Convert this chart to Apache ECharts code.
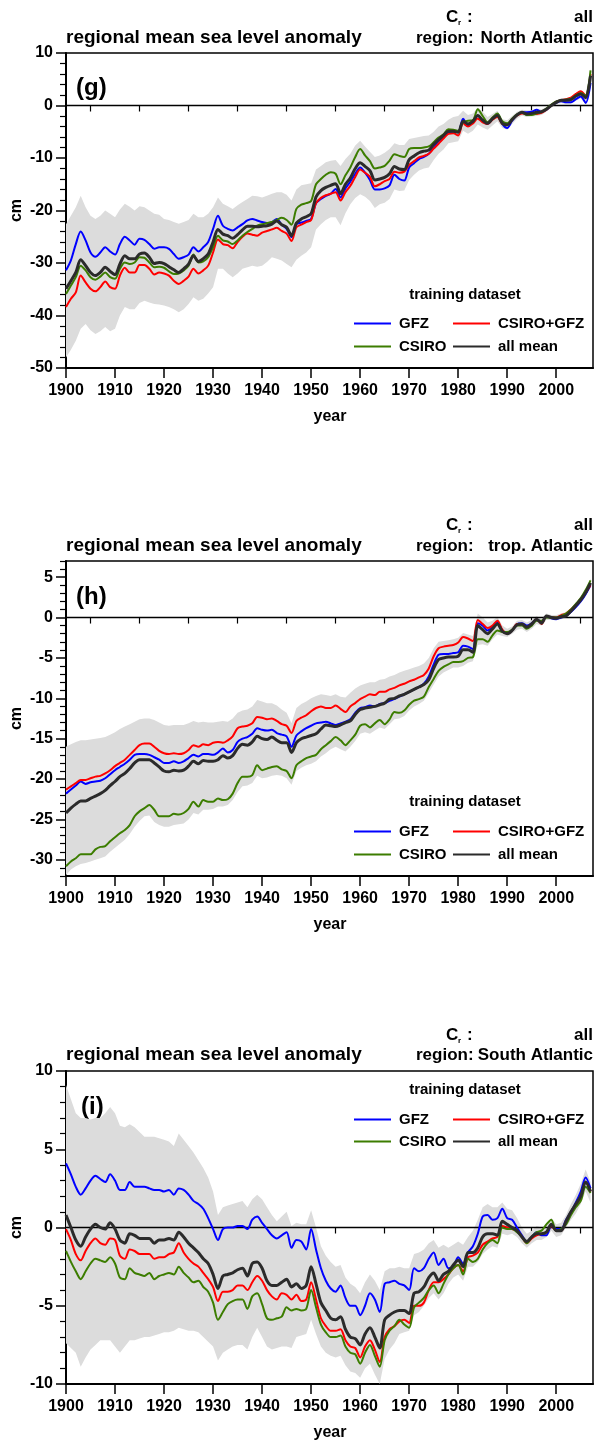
<!DOCTYPE html>
<html lang="en">
<head>
<meta charset="UTF-8">
<title>regional mean sea level anomaly</title>
<script src="https://cdn.jsdelivr.net/npm/echarts@6.0.0/dist/echarts.min.js"></script>
<style>
  html, body { margin: 0; padding: 0; background: #fff; }
  #main { width: 597px; height: 1447px; }
</style>
</head>
<body>
<div id="main"></div>
<script>
// one value per year, 1900 .. 2007
const years = [];
for (let y = 1900; y <= 2007; y++) years.push(y);

const xMajorTicks = [1900, 1910, 1920, 1930, 1940, 1950, 1960, 1970, 1980, 1990, 2000];
const xMinorTicks = [1905, 1915, 1925, 1935, 1945, 1955, 1965, 1975, 1985, 1995, 2005];
const yTicksG = [-50, -40, -30, -20, -10, 0, 10];
const yTicksH = [-30, -25, -20, -15, -10, -5, 0, 5];
const yTicksI = [-10, -5, 0, 5, 10];

// (g) North Atlantic
const gfzG = [-31.4,-29.5,-26.4,-24.0,-25.7,-28.0,-28.8,-28.0,-27.0,-27.8,
  -28.4,-26.4,-25.0,-25.7,-26.5,-25.4,-25.6,-26.4,-27.3,-27.0,
  -27.0,-27.3,-28.3,-29.2,-28.9,-28.4,-27.0,-27.8,-27.0,-26.0,
  -23.5,-21.0,-22.9,-23.5,-23.8,-23.2,-22.6,-21.9,-21.6,-21.9,
  -22.2,-22.4,-22.2,-21.6,-22.7,-23.5,-25.1,-22.6,-22.3,-22.0,
  -21.6,-18.6,-17.8,-17.2,-16.8,-15.9,-17.5,-15.8,-14.5,-13.0,
  -11.8,-12.8,-14.2,-16.0,-16.0,-15.8,-15.2,-13.2,-14.0,-14.3,
  -11.8,-11.0,-10.2,-9.8,-9.2,-8.0,-6.8,-6.0,-5.1,-5.0,
  -5.1,-2.5,-3.8,-3.2,-1.9,-3.0,-3.5,-2.5,-1.6,-3.5,
  -4.3,-2.9,-1.8,-1.3,-1.3,-1.2,-0.8,-1.2,-0.8,0.0,
  0.5,0.8,0.6,0.6,1.2,1.7,0.5,4.3];
const csiroGfzG = [-38.4,-36.8,-35.6,-32.4,-33.7,-34.9,-35.4,-34.6,-33.5,-34.6,
  -34.9,-32.4,-30.9,-31.8,-31.8,-30.4,-30.4,-31.1,-32.2,-31.8,
  -32.0,-32.4,-33.4,-34.0,-33.4,-32.6,-31.1,-32.0,-31.4,-30.5,
  -28.0,-25.5,-26.4,-26.6,-27.2,-26.0,-25.0,-24.4,-24.6,-24.8,
  -24.2,-23.9,-23.6,-23.3,-23.9,-24.4,-25.8,-23.2,-22.7,-22.2,
  -21.8,-18.6,-17.6,-17.1,-16.8,-16.5,-18.1,-16.5,-15.3,-13.6,
  -12.2,-12.8,-13.6,-15.4,-15.0,-14.4,-14.0,-12.6,-12.8,-12.6,
  -11.3,-10.6,-9.9,-9.6,-9.2,-8.2,-7.3,-6.3,-5.4,-5.3,
  -5.7,-3.4,-4.0,-3.4,-2.5,-3.2,-3.5,-2.7,-2.2,-3.5,
  -3.6,-2.7,-1.9,-1.5,-1.6,-1.6,-1.6,-1.4,-0.8,0.0,
  0.7,1.0,1.2,1.5,2.2,2.7,1.9,6.0];
const csiroG = [-35.9,-34.3,-32.7,-30.5,-31.4,-32.7,-33.2,-32.6,-31.8,-32.7,
  -33.0,-31.1,-29.9,-30.2,-29.9,-28.9,-29.0,-29.9,-30.8,-30.7,
  -30.9,-31.6,-32.1,-32.0,-31.4,-30.5,-28.4,-29.9,-29.7,-28.9,
  -27.0,-24.8,-25.7,-25.9,-26.4,-25.7,-24.8,-24.1,-23.5,-22.9,
  -22.6,-22.4,-22.2,-21.8,-21.4,-21.8,-22.7,-19.7,-18.9,-18.6,
  -18.2,-15.0,-14.0,-13.2,-12.7,-13.0,-15.0,-13.3,-11.8,-9.8,
  -8.3,-9.5,-10.6,-12.0,-11.8,-11.5,-10.5,-9.3,-9.6,-9.8,
  -8.3,-8.1,-8.1,-8.0,-7.8,-7.0,-6.1,-5.5,-4.5,-4.6,
  -4.8,-3.2,-2.9,-2.8,-0.7,-2.0,-3.2,-2.3,-1.5,-3.0,
  -3.4,-2.5,-1.7,-1.3,-1.8,-1.8,-1.5,-1.2,-0.6,0.2,
  0.8,1.0,1.1,1.3,1.9,2.4,1.9,6.7];
const meanG = [-34.9,-33.4,-31.8,-29.4,-30.5,-31.8,-32.4,-31.8,-30.8,-31.6,
  -32.2,-30.2,-28.6,-29.2,-29.2,-28.3,-28.1,-28.9,-30.1,-29.9,
  -30.1,-30.7,-31.3,-31.8,-31.1,-30.2,-28.6,-29.7,-29.2,-28.3,
  -26.0,-23.6,-24.5,-24.8,-25.3,-24.6,-23.7,-23.0,-23.0,-23.1,
  -23.0,-22.9,-22.6,-22.0,-22.7,-23.2,-24.8,-22.4,-21.6,-21.2,
  -20.6,-17.4,-16.2,-15.6,-15.2,-14.9,-16.8,-15.0,-13.8,-12.0,
  -10.9,-11.6,-12.4,-14.2,-14.0,-13.7,-13.0,-11.6,-12.1,-12.2,
  -10.3,-9.6,-9.0,-8.7,-8.5,-7.4,-6.5,-5.7,-4.9,-4.9,
  -5.1,-3.0,-3.5,-3.0,-1.9,-2.8,-3.4,-2.5,-1.9,-3.4,
  -3.7,-2.7,-1.8,-1.3,-1.6,-1.5,-1.3,-1.2,-0.7,0.0,
  0.6,1.0,1.0,1.1,1.8,2.2,1.5,5.7];
const upperG = [-22.6,-21.0,-19.4,-17.2,-19.4,-21.0,-21.6,-21.0,-20.0,-20.6,
  -21.3,-19.8,-18.7,-19.3,-20.0,-19.2,-19.4,-20.0,-20.6,-20.8,
  -21.6,-21.8,-22.2,-22.5,-22.2,-21.8,-20.6,-21.3,-21.3,-20.6,
  -19.4,-17.5,-18.7,-19.2,-19.7,-19.0,-18.4,-17.8,-17.2,-17.3,
  -17.5,-17.2,-16.8,-16.5,-16.5,-17.0,-18.1,-16.0,-15.2,-15.0,
  -14.8,-12.2,-11.5,-10.8,-10.5,-10.4,-11.5,-10.2,-9.2,-7.6,
  -6.7,-7.8,-8.8,-9.8,-9.5,-9.0,-8.3,-7.2,-7.5,-7.5,
  -6.4,-6.2,-6.0,-5.8,-5.7,-5.0,-4.0,-3.5,-2.7,-2.2,
  -2.0,-1.0,-1.8,-1.5,-0.4,-1.2,-2.2,-1.6,-1.0,-2.6,
  -2.8,-2.0,-1.2,-0.8,-0.9,-0.9,-0.6,-0.7,-0.3,0.4,
  1.0,1.3,1.4,1.6,2.4,2.9,2.2,7.0];
const lowerG = [-48.0,-46.5,-44.8,-42.5,-41.6,-42.8,-43.5,-43.0,-42.2,-43.0,
  -42.5,-40.0,-38.4,-38.8,-38.8,-37.6,-37.2,-37.5,-37.8,-37.9,
  -38.1,-38.4,-38.8,-39.4,-38.8,-37.8,-36.5,-37.2,-36.8,-35.8,
  -34.6,-31.1,-31.1,-32.0,-32.7,-32.0,-31.1,-30.8,-30.5,-30.7,
  -30.5,-29.8,-28.9,-29.2,-29.5,-30.2,-30.8,-29.4,-28.6,-28.0,
  -27.0,-23.6,-22.6,-21.8,-21.3,-21.3,-22.8,-20.5,-18.8,-17.6,
  -16.9,-17.4,-18.2,-19.5,-18.8,-18.5,-17.8,-16.0,-16.3,-16.2,
  -14.2,-13.2,-12.4,-12.0,-11.8,-10.4,-9.2,-8.4,-7.2,-7.0,
  -6.8,-4.8,-5.4,-4.8,-3.6,-4.2,-4.6,-3.8,-3.0,-4.3,
  -4.6,-3.5,-2.5,-1.9,-2.2,-2.1,-2.0,-1.8,-1.2,-0.4,
  0.2,0.5,0.3,0.3,0.9,1.4,0.2,3.9];

// (h) tropical Atlantic
const gfzH = [-21.8,-21.3,-20.8,-20.3,-20.6,-20.4,-20.3,-20.2,-19.9,-19.4,
  -18.9,-18.5,-18.1,-17.6,-17.0,-16.9,-16.9,-17.0,-17.3,-17.6,
  -18.0,-18.0,-17.8,-18.0,-17.8,-17.4,-17.0,-17.2,-16.9,-16.9,
  -17.0,-16.7,-16.2,-16.7,-16.4,-15.4,-15.0,-14.8,-14.4,-13.7,
  -13.9,-14.0,-13.9,-14.3,-14.5,-14.7,-16.0,-14.6,-14.1,-13.7,
  -13.4,-13.1,-13.0,-12.9,-13.1,-13.3,-13.1,-12.9,-12.6,-11.8,
  -11.2,-11.1,-10.9,-11.0,-10.7,-10.6,-10.3,-10.1,-9.8,-9.5,
  -9.2,-8.9,-8.6,-8.2,-7.3,-5.8,-4.6,-4.5,-4.5,-4.4,
  -4.3,-3.5,-3.6,-3.9,-0.7,-1.0,-1.6,-1.2,-0.6,-1.6,
  -2.0,-1.6,-0.8,-0.7,-1.0,-0.7,-0.2,-0.6,0.2,-0.1,
  -0.2,0.0,0.2,0.7,1.3,2.0,2.9,4.0];
const csiroGfzH = [-21.3,-20.9,-20.5,-20.1,-20.1,-19.9,-19.7,-19.6,-19.3,-18.9,
  -18.4,-18.0,-17.6,-17.0,-16.4,-15.8,-15.6,-15.6,-16.0,-16.5,
  -16.8,-16.9,-16.8,-16.9,-16.8,-16.4,-15.8,-16.0,-15.7,-15.8,
  -15.5,-15.4,-15.5,-15.2,-14.7,-13.7,-13.5,-13.4,-13.1,-12.3,
  -12.4,-12.6,-12.5,-12.8,-13.2,-13.4,-14.3,-12.8,-12.4,-12.1,
  -11.6,-11.2,-11.0,-11.2,-11.2,-10.9,-11.3,-11.7,-11.0,-10.6,
  -10.1,-9.8,-9.5,-9.6,-9.2,-9.2,-8.9,-8.7,-8.4,-8.2,
  -7.9,-7.7,-7.4,-7.1,-6.3,-4.8,-3.8,-3.6,-3.5,-3.4,
  -3.1,-2.4,-2.6,-2.9,-0.3,-0.8,-1.3,-1.0,-0.4,-1.5,
  -2.0,-1.6,-0.8,-0.8,-1.2,-0.8,-0.2,-0.8,0.2,0.0,
  0.0,0.3,0.5,1.0,1.6,2.3,3.1,4.0];
const csiroH = [-30.8,-30.2,-29.8,-29.3,-29.3,-29.3,-28.7,-28.4,-28.3,-27.7,
  -27.2,-26.7,-26.3,-25.7,-24.6,-24.0,-23.6,-23.2,-23.8,-24.6,
  -24.6,-24.6,-24.3,-24.4,-24.2,-23.7,-22.8,-23.4,-22.6,-22.8,
  -22.8,-22.4,-22.6,-22.5,-21.8,-20.5,-19.7,-19.7,-19.5,-18.3,
  -18.9,-18.7,-18.5,-18.4,-18.8,-19.0,-19.9,-18.3,-17.8,-17.4,
  -17.2,-17.0,-16.3,-15.8,-15.3,-14.8,-15.2,-15.8,-15.2,-14.5,
  -13.4,-13.2,-13.6,-13.1,-12.7,-13.2,-12.6,-11.7,-11.8,-11.5,
  -10.8,-10.3,-10.1,-9.8,-8.6,-7.6,-6.6,-6.1,-5.8,-5.5,
  -5.5,-5.4,-5.0,-4.9,-2.7,-2.7,-3.0,-2.2,-1.6,-1.8,
  -1.8,-1.5,-1.0,-1.0,-1.4,-1.0,-0.4,-0.4,0.0,0.0,
  0.0,0.2,0.5,1.0,1.7,2.4,3.4,4.6];
const meanH = [-24.2,-23.6,-23.1,-22.7,-22.7,-22.4,-22.1,-21.8,-21.4,-20.8,
  -20.3,-19.7,-19.3,-18.7,-18.0,-17.6,-17.6,-17.6,-18.0,-18.5,
  -19.0,-19.1,-18.9,-19.0,-18.9,-18.4,-17.8,-18.1,-17.7,-17.8,
  -17.8,-17.6,-17.1,-17.4,-17.1,-16.2,-15.7,-15.8,-15.4,-14.7,
  -15.0,-15.1,-14.8,-15.2,-15.5,-15.5,-16.7,-15.5,-15.0,-14.8,
  -14.6,-14.4,-13.8,-13.3,-13.4,-13.5,-13.3,-13.0,-12.8,-12.0,
  -11.4,-11.2,-11.1,-11.0,-10.8,-10.6,-10.1,-10.0,-9.7,-9.5,
  -9.2,-8.9,-8.6,-8.3,-7.7,-6.3,-5.2,-5.0,-4.9,-4.9,
  -4.8,-4.0,-4.0,-4.3,-1.0,-1.5,-2.0,-1.4,-0.8,-1.7,
  -2.0,-1.6,-0.9,-0.8,-1.2,-0.8,-0.2,-0.7,0.2,0.0,
  -0.1,0.1,0.2,0.8,1.5,2.2,3.1,4.3];
const upperH = [-16.0,-15.7,-15.4,-15.2,-15.2,-15.1,-15.0,-14.9,-14.8,-14.5,
  -14.2,-13.8,-13.5,-13.2,-12.9,-12.6,-12.5,-12.5,-12.7,-13.0,
  -13.3,-13.4,-13.3,-13.3,-13.3,-13.1,-12.8,-13.0,-12.9,-13.0,
  -13.0,-12.9,-12.8,-12.9,-12.5,-11.8,-11.5,-11.4,-11.0,-10.2,
  -10.4,-10.6,-10.6,-10.9,-11.4,-11.8,-13.1,-11.2,-10.7,-10.4,
  -10.0,-9.7,-9.5,-9.6,-9.7,-9.5,-9.8,-9.9,-9.3,-8.8,
  -8.4,-8.2,-8.0,-8.0,-7.7,-7.6,-7.3,-7.1,-6.8,-6.6,
  -6.4,-6.2,-6.0,-5.7,-5.0,-3.8,-3.0,-2.9,-2.8,-2.7,
  -2.5,-1.9,-2.1,-2.3,0.5,0.0,-0.6,-0.4,0.1,-1.0,
  -1.4,-1.1,-0.4,-0.3,-0.6,-0.3,0.2,-0.2,0.5,0.3,
  0.3,0.5,0.7,1.2,1.8,2.6,3.5,4.8];
const lowerH = [-31.9,-31.2,-30.8,-30.5,-30.4,-30.2,-30.0,-29.8,-29.6,-29.0,
  -28.5,-28.0,-27.5,-26.8,-25.9,-25.2,-24.6,-24.5,-25.3,-25.7,
  -25.9,-25.9,-25.7,-25.6,-25.5,-25.0,-24.2,-24.4,-23.8,-23.8,
  -23.7,-23.4,-23.4,-23.2,-22.6,-21.6,-20.9,-20.8,-20.5,-19.6,
  -19.9,-19.8,-19.6,-19.5,-19.6,-19.9,-20.7,-19.0,-18.6,-18.3,
  -18.1,-17.8,-17.2,-16.8,-16.3,-16.0,-16.3,-16.6,-16.0,-15.3,
  -14.4,-14.2,-14.4,-14.0,-13.6,-13.8,-13.2,-12.6,-12.5,-12.2,
  -11.5,-11.0,-10.7,-10.3,-9.3,-8.3,-7.3,-6.8,-6.5,-6.2,
  -6.2,-6.0,-5.6,-5.4,-3.4,-3.3,-3.5,-2.7,-2.1,-2.3,
  -2.4,-2.0,-1.5,-1.4,-1.8,-1.4,-0.8,-1.0,-0.3,-0.3,
  -0.3,-0.2,0.0,0.5,1.2,1.9,2.7,3.8];

// (i) South Atlantic
const gfzI = [4.1,3.4,2.6,2.1,2.5,3.0,3.3,3.1,2.9,3.4,
  3.0,2.4,2.4,2.9,2.6,2.6,2.6,2.5,2.4,2.4,
  2.3,2.4,2.1,2.5,2.4,2.1,1.7,1.5,1.2,0.6,
  -0.1,-0.8,-0.1,0.0,0.0,0.1,0.1,-0.1,0.5,0.7,
  0.3,-0.1,-0.5,-0.7,-0.5,-0.3,-1.3,-0.8,-0.9,-1.4,
  -0.1,-1.4,-2.6,-3.4,-3.9,-4.1,-3.7,-4.5,-5.0,-5.0,
  -5.6,-5.0,-4.2,-4.6,-5.4,-3.6,-3.5,-3.4,-3.6,-3.7,
  -4.0,-2.6,-2.8,-2.6,-2.0,-1.6,-2.4,-2.0,-2.6,-2.5,
  -1.9,-2.3,-1.6,-1.2,-0.4,0.7,0.8,0.5,0.6,1.2,
  0.6,0.5,0.0,-0.5,-0.9,-0.6,-0.3,-0.5,-0.5,0.1,
  -0.1,-0.1,0.5,1.0,1.6,2.3,3.2,2.5];
const csiroGfzI = [-0.1,-0.8,-1.7,-2.1,-1.5,-1.0,-0.7,-1.0,-1.1,-0.7,
  -0.8,-1.8,-2.0,-1.4,-1.5,-1.7,-1.7,-1.7,-2.0,-1.9,
  -1.9,-1.7,-1.6,-1.0,-1.6,-2.0,-2.3,-2.5,-2.9,-3.3,
  -3.8,-4.7,-4.1,-4.1,-4.0,-3.7,-3.7,-4.0,-3.5,-3.1,
  -3.4,-4.0,-4.4,-4.6,-4.2,-4.3,-4.6,-4.3,-4.7,-4.6,
  -3.5,-4.6,-5.8,-6.3,-6.6,-6.6,-6.5,-7.2,-7.6,-7.7,
  -8.3,-7.6,-7.2,-7.8,-8.6,-7.0,-6.5,-6.3,-6.0,-5.9,
  -6.1,-5.0,-5.0,-4.8,-4.0,-3.5,-3.5,-3.3,-3.0,-2.6,
  -2.4,-2.8,-1.9,-1.8,-1.6,-1.1,-0.9,-0.7,-0.6,0.1,
  0.0,-0.1,-0.2,-0.6,-1.0,-0.7,-0.5,-0.4,-0.3,0.1,
  -0.2,-0.2,0.4,0.9,1.4,1.9,2.9,2.3];
const csiroI = [-1.5,-2.2,-2.8,-3.3,-2.8,-2.3,-2.0,-2.1,-2.2,-1.9,
  -2.3,-3.2,-3.3,-2.6,-2.9,-3.0,-3.1,-2.9,-3.3,-3.1,
  -3.0,-2.9,-3.0,-2.5,-2.9,-3.2,-3.5,-3.4,-3.8,-4.1,
  -4.8,-5.9,-5.4,-4.9,-4.7,-4.6,-4.6,-5.2,-4.4,-4.2,
  -4.9,-5.8,-5.9,-5.8,-5.7,-5.1,-5.3,-5.2,-5.3,-5.2,
  -4.0,-5.1,-6.2,-6.7,-7.0,-7.0,-6.9,-7.6,-8.0,-8.1,
  -8.7,-8.0,-7.5,-8.2,-8.9,-7.2,-6.6,-6.3,-5.9,-6.2,
  -6.4,-5.1,-4.8,-4.5,-4.0,-3.7,-4.2,-3.6,-3.0,-2.6,
  -2.4,-3.0,-2.0,-2.2,-2.0,-1.4,-1.0,-0.8,-1.0,0.0,
  -0.1,-0.1,-0.3,-0.6,-1.0,-0.6,-0.3,-0.2,0.2,0.5,
  -0.2,-0.1,0.2,0.8,1.3,1.7,2.6,2.2];
const meanI = [0.8,0.0,-0.8,-1.2,-0.6,-0.1,0.2,0.0,-0.1,0.3,
  -0.1,-0.8,-1.0,-0.4,-0.5,-0.7,-0.7,-0.7,-1.0,-0.8,
  -0.8,-0.7,-0.8,-0.3,-0.6,-1.0,-1.3,-1.6,-2.0,-2.3,
  -3.0,-3.9,-3.1,-3.0,-2.9,-2.7,-2.6,-3.1,-2.3,-2.2,
  -2.6,-3.4,-3.7,-3.7,-3.5,-3.3,-3.8,-3.6,-3.9,-3.7,
  -2.5,-3.6,-4.8,-5.3,-5.8,-5.9,-5.7,-6.5,-7.0,-7.1,
  -7.5,-6.8,-6.4,-7.0,-7.7,-5.9,-5.6,-5.4,-5.3,-5.3,
  -5.5,-4.2,-4.1,-3.8,-3.2,-2.9,-3.4,-3.0,-2.8,-2.4,
  -2.1,-2.5,-1.6,-1.6,-1.3,-0.6,-0.4,-0.4,-0.5,0.4,
  0.2,0.0,-0.2,-0.6,-0.9,-0.6,-0.4,-0.4,-0.3,0.2,
  -0.2,-0.2,0.4,1.0,1.5,2.0,2.9,2.3];
const upperI = [9.1,8.2,7.3,7.0,7.0,6.9,7.0,7.0,7.3,7.7,
  7.3,6.5,6.4,6.6,6.4,6.1,5.8,5.8,5.8,5.7,
  5.6,5.5,5.2,6.0,5.6,5.2,4.8,4.3,3.8,3.2,
  2.3,0.8,1.3,1.4,1.5,1.6,1.7,1.3,1.8,2.1,
  1.8,1.3,0.8,0.4,0.7,1.0,0.1,0.3,0.2,0.2,
  1.1,0.0,-1.2,-1.8,-2.2,-2.5,-2.4,-3.2,-3.6,-3.8,
  -4.2,-3.5,-3.0,-3.4,-4.0,-2.8,-2.6,-2.6,-2.5,-2.6,
  -2.6,-1.7,-1.6,-1.4,-1.0,-0.8,-1.3,-1.1,-1.3,-1.1,
  -0.9,-1.1,-0.6,-0.2,0.5,1.3,1.5,1.3,1.3,1.6,
  1.2,1.1,0.6,0.0,-0.4,-0.2,0.1,0.0,0.1,0.6,
  0.2,0.3,0.8,1.5,2.1,2.8,3.7,2.9];
const lowerI = [-7.4,-7.7,-8.0,-8.9,-8.3,-7.8,-7.5,-7.2,-7.2,-7.2,
  -7.6,-8.0,-7.6,-7.2,-7.2,-7.1,-7.0,-7.0,-6.9,-6.8,
  -6.7,-6.7,-6.6,-6.4,-6.5,-6.6,-6.6,-6.7,-7.0,-7.3,
  -7.6,-8.5,-8.0,-7.8,-7.6,-7.5,-7.5,-7.8,-7.0,-6.4,
  -7.0,-7.6,-7.8,-7.7,-7.6,-7.6,-7.7,-7.0,-6.9,-6.8,
  -5.9,-6.8,-7.6,-8.0,-8.2,-8.3,-8.2,-8.8,-9.2,-9.3,
  -9.6,-9.0,-8.7,-9.4,-10.0,-8.4,-7.8,-7.4,-6.8,-6.7,
  -6.6,-5.6,-5.4,-5.0,-4.5,-4.2,-4.6,-4.2,-3.6,-3.2,
  -3.0,-3.4,-2.5,-2.5,-2.2,-1.7,-1.4,-1.2,-1.3,-0.4,
  -0.5,-0.4,-0.6,-1.0,-1.3,-1.0,-0.8,-0.8,-0.6,-0.2,
  -0.6,-0.5,0.0,0.5,0.9,1.5,2.3,1.6];

const FONT = '"Liberation Sans", Arial, sans-serif';
const names = ['GFZ', 'CSIRO+GFZ', 'CSIRO', 'all mean'];
const colors = ['#0000ff', '#ff0000', '#3c7d00', '#2b2b2b'];
const widths = [2, 2, 2, 3];

function steps(a, b, s) {
  const out = [];
  for (let v = a; v <= b; v += s) out.push(v);
  return out;
}

const panels = [
  { tag: '(g)', tagX: 76, region: 'North Atlantic', top: 53, height: 315, yMin: -50, yMax: 10,
    yMajor: yTicksG, yMinor: steps(-50, 10, 2).filter(v => v % 10 !== 0),
    lines: [gfzG, csiroGfzG, csiroG, meanG], upper: upperG, lower: lowerG,
    crY: 17, titleY: 38, tagY: 88, trainY: 295, rowY: [323, 346] },
  { tag: '(h)', tagX: 76, region: 'trop. Atlantic', top: 561, height: 315, yMin: -32, yMax: 7,
    yMajor: yTicksH, yMinor: steps(-32, 7, 1).filter(v => v % 5 !== 0),
    lines: [gfzH, csiroGfzH, csiroH, meanH], upper: upperH, lower: lowerH,
    crY: 525, titleY: 546, tagY: 597, trainY: 802, rowY: [831, 854] },
  { tag: '(i)', tagX: 81, region: 'South Atlantic', top: 1071, height: 313, yMin: -10, yMax: 10,
    yMajor: yTicksI, yMinor: steps(-10, 10, 1).filter(v => v % 5 !== 0),
    lines: [gfzI, csiroGfzI, csiroI, meanI], upper: upperI, lower: lowerI,
    crY: 1035, titleY: 1055, tagY: 1107, trainY: 1090, rowY: [1119, 1141] }
];

// legend slots: [column x, row]
const legendSlots = [[353, 0], [452, 0], [353, 1], [452, 1]];

const labelFont = { color: '#000', fontFamily: FONT, fontWeight: 'bold', fontSize: 16 };
const option = { animation: false, grid: [], xAxis: [], yAxis: [], series: [], legend: [], graphic: [] };

function txt(x, y, text, size, align, extra) {
  return Object.assign({
    type: 'text', x: x, y: y, silent: true,
    style: { text: text, font: 'bold ' + size + 'px ' + FONT, fill: '#000', align: align || 'left', verticalAlign: 'middle' }
  }, extra || {});
}

panels.forEach((p, i) => {
  option.grid.push({ left: 66, top: p.top, width: 527, height: p.height, show: true, borderColor: '#000', borderWidth: 1.5 });

  // x axes: labelled major ticks + a second axis just for the minor ticks
  option.xAxis.push({
    type: 'value', gridIndex: i, position: 'bottom', min: 1900, max: 2007.5,
    axisLine: { onZero: false, lineStyle: { color: '#000', width: 2 } },
    axisTick: { customValues: xMajorTicks, length: 10, lineStyle: { color: '#000', width: 1.5 } },
    axisLabel: Object.assign({ customValues: xMajorTicks, margin: 15, formatter: v => String(v) }, labelFont),
    splitLine: { show: false }
  });
  option.xAxis.push({
    type: 'value', gridIndex: i, position: 'bottom', min: 1900, max: 2007.5,
    axisLine: { show: false },
    axisTick: { customValues: xMinorTicks, length: 6, lineStyle: { color: '#000', width: 1.2 } },
    axisLabel: { show: false }, splitLine: { show: false }
  });
  option.yAxis.push({
    type: 'value', gridIndex: i, position: 'left', min: p.yMin, max: p.yMax,
    axisLine: { onZero: false, lineStyle: { color: '#000', width: 2 } },
    axisTick: { customValues: p.yMajor, length: 10, lineStyle: { color: '#000', width: 1.5 } },
    axisLabel: Object.assign({ customValues: p.yMajor, margin: 13, formatter: v => String(v) }, labelFont),
    splitLine: { show: false }
  });
  option.yAxis.push({
    type: 'value', gridIndex: i, position: 'left', min: p.yMin, max: p.yMax,
    axisLine: { show: false },
    axisTick: { customValues: p.yMinor, length: 6, lineStyle: { color: '#000', width: 1.2 } },
    axisLabel: { show: false }, splitLine: { show: false }
  });

  const xi = 2 * i, yi = 2 * i;
  // spread band drawn as one polygon: upper edge forward, lower edge back
  option.series.push({
    type: 'custom', xAxisIndex: xi, yAxisIndex: yi, silent: true, clip: true, z: 1,
    data: years.map((y, k) => [y, p.lower[k], p.upper[k]]),
    renderItem: (params, api) => {
      if (params.dataIndex !== 0) return null;
      const top = years.map((y, k) => api.coord([y, p.upper[k]]));
      const bottom = years.map((y, k) => api.coord([y, p.lower[k]])).reverse();
      return { type: 'polygon', shape: { points: top.concat(bottom) }, style: { fill: '#dcdcdc' } };
    },
    markLine: { silent: true, symbol: 'none', z: 2, label: { show: false },
      lineStyle: { color: '#000', width: 1.3, type: 'solid' }, data: [{ yAxis: 0 }] }
  });
  p.lines.forEach((vals, s) => {
    option.series.push({
      name: names[s], type: 'line', xAxisIndex: xi, yAxisIndex: yi,
      data: years.map((y, k) => [y, vals[k]]), symbol: 'none', smooth: 0.3,
      lineStyle: { color: colors[s], width: widths[s] }, itemStyle: { color: colors[s] }, z: 3 + s
    });
  });

  names.forEach((n, s) => {
    const slot = legendSlots[s];
    option.legend.push({
      data: [n], left: slot[0], top: p.rowY[slot[1]] - 7, padding: 0, selectedMode: false,
      itemWidth: 37, itemHeight: 14, itemStyle: { opacity: 0 },
      textStyle: { color: '#000', fontFamily: FONT, fontWeight: 'bold', fontSize: 15, padding: [0, 0, 0, 3] }
    });
  });

  const mid = p.top + p.height / 2;
  option.graphic.push(
    txt(66, p.titleY, 'regional mean sea level anomaly', 19),
    txt(416, p.titleY, 'region:', 17),
    txt(593, p.titleY, p.region, 17, 'right'),
    txt(446, p.crY, 'C', 17),
    txt(458, p.crY + 6, 'r', 8),
    txt(467, p.crY, ':', 17),
    txt(593, p.crY, 'all', 17, 'right'),
    txt(p.tagX, p.tagY, p.tag, 24),
    txt(465, p.trainY, 'training dataset', 15, 'center'),
    txt(17, mid, 'cm', 16, 'center', { rotation: Math.PI / 2 }),
    txt(330, p.top + p.height + 49, 'year', 16, 'center')
  );
});

const chart = echarts.init(document.getElementById('main'));
chart.setOption(option);
</script>
</body>
</html>
